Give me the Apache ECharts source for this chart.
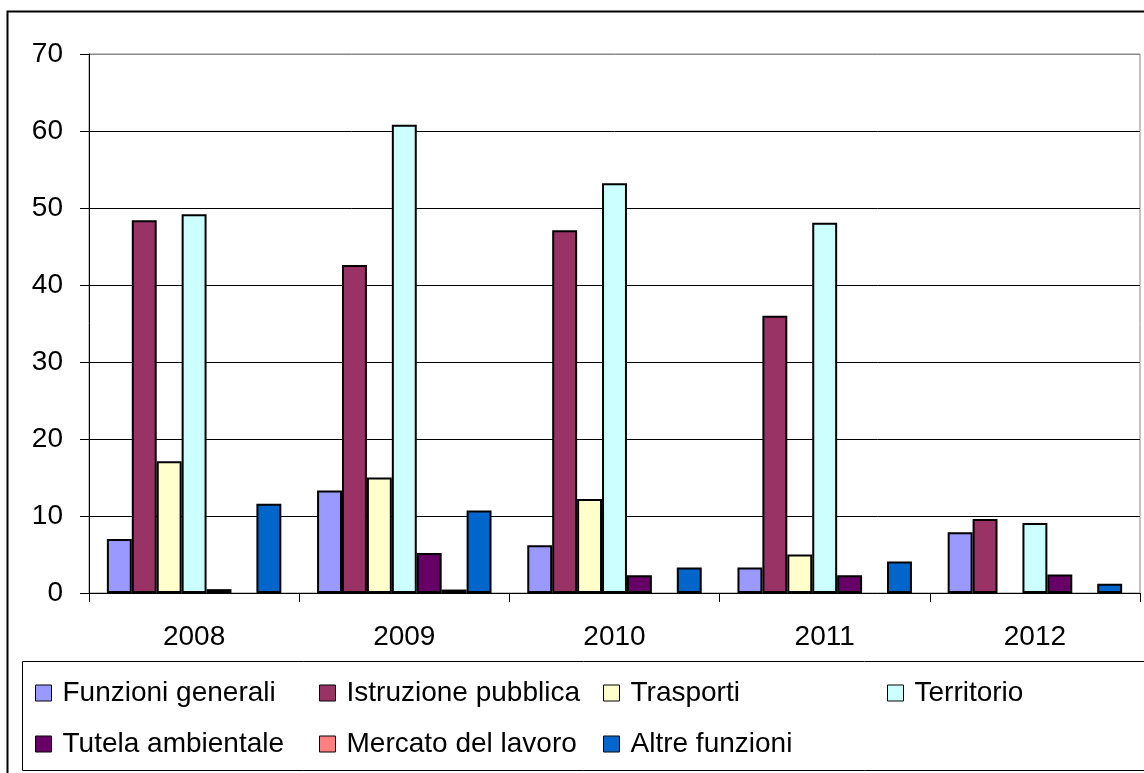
<!DOCTYPE html>
<html>
<head>
<meta charset="utf-8">
<script src="https://cdn.jsdelivr.net/npm/echarts@6/dist/echarts.min.js"></script>
<style>
  html, body { margin: 0; padding: 0; background: #fff; }
  #chart { width: 1144px; height: 773px; }
</style>
</head>
<body>
<div id="chart"></div>
<script>
var years = ['2008', '2009', '2010', '2011', '2012'];
var yTicks = [0, 10, 20, 30, 40, 50, 60, 70];

// null = no bar drawn for that year
var funzioniGenerali = [7.0, 13.3, 6.2, 3.3, 7.9];
var istruzionePubblica = [48.4, 42.6, 47.1, 36.0, 9.6];
var trasporti = [17.1, 15.0, 12.2, 5.0, null];
var territorio = [49.2, 60.8, 53.2, 48.1, 9.1];
var tutelaAmbientale = [0.5, 5.2, 2.3, 2.3, 2.4];
var mercatoLavoro = [null, 0.45, null, null, null];
var altreFunzioni = [11.6, 10.7, 3.3, 4.1, 1.2];

var seriesDefs = [
  { name: 'Funzioni generali', data: funzioniGenerali, color: '#9999FF' },
  { name: 'Istruzione pubblica', data: istruzionePubblica, color: '#993366' },
  { name: 'Trasporti', data: trasporti, color: '#FFFFCC' },
  { name: 'Territorio', data: territorio, color: '#CCFFFF' },
  { name: 'Tutela ambientale', data: tutelaAmbientale, color: '#660066' },
  { name: 'Mercato del lavoro', data: mercatoLavoro, color: '#FF8080' },
  { name: 'Altre funzioni', data: altreFunzioni, color: '#0066CC' }
];

var font = 'Liberation Sans, Arial, sans-serif';
var chart = echarts.init(document.getElementById('chart'), null, { renderer: 'canvas' });

// one legend per entry so the columns line up like the original
var legends = seriesDefs.map(function (s, i) {
  var col = i % 4, row = Math.floor(i / 4);
  return {
    data: [s.name],
    left: 35 + col * 284,
    top: 679 + row * 51,
    icon: 'rect',
    itemWidth: 16,
    itemHeight: 16,
    itemStyle: { borderColor: '#000', borderWidth: 1 },
    selectedMode: false,
    padding: 0,
    textStyle: { fontFamily: font, fontSize: 28, color: '#000', padding: [0, 0, 0, 6] }
  };
});

var option = {
  backgroundColor: '#fff',
  animation: false,
  graphic: [
    {
      type: 'rect',
      shape: { x: 7.5, y: 11.5, width: 1160, height: 800 },
      style: { fill: 'none', stroke: '#000', lineWidth: 2 },
      z: 0
    },
    {
      type: 'rect',
      shape: { x: 22.5, y: 661.5, width: 1140, height: 109 },
      style: { fill: 'none', stroke: '#000', lineWidth: 1 },
      z: 0
    }
  ],
  legend: legends,
  grid: {
    left: 89,
    right: 4,
    top: 54,
    bottom: 180,
    show: true,
    borderColor: '#888',
    borderWidth: 1
  },
  xAxis: {
    type: 'category',
    data: years,
    axisLine: { lineStyle: { color: '#000', width: 1 } },
    axisTick: { show: true, length: 9, interval: 0, lineStyle: { color: '#000' } },
    axisLabel: { fontFamily: font, fontSize: 28, color: '#000', margin: 30 }
  },
  yAxis: {
    type: 'value',
    min: yTicks[0],
    max: yTicks[yTicks.length - 1],
    interval: 10,
    axisLine: { show: true, lineStyle: { color: '#000', width: 1 } },
    axisTick: { show: true, length: 9, lineStyle: { color: '#000' } },
    axisLabel: { fontFamily: font, fontSize: 28, color: '#000', margin: 26 },
    splitLine: {
      show: true,
      lineStyle: { color: ['#000', '#000', '#000', '#000', '#000', '#000', '#000', '#888'], width: 1 }
    }
  },
  series: seriesDefs.map(function (s) {
    return {
      name: s.name,
      type: 'bar',
      data: s.data,
      barGap: '0%',
      barCategoryGap: '17%',
      itemStyle: { color: s.color, borderColor: '#000', borderWidth: 2 }
    };
  })
};

chart.setOption(option);
</script>
</body>
</html>
